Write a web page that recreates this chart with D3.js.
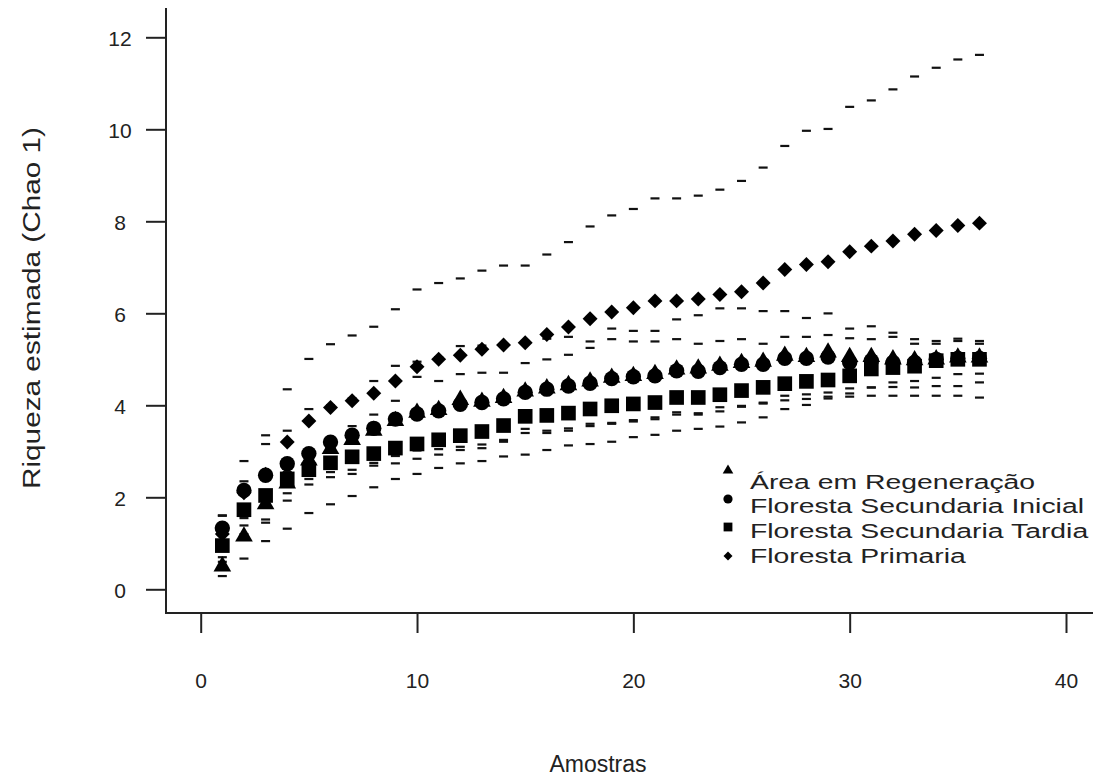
<!DOCTYPE html>
<html>
<head>
<meta charset="utf-8">
<script src="https://cdnjs.cloudflare.com/ajax/libs/d3/7.8.5/d3.min.js"></script>
<style>
  body { margin: 0; background: #fff; }
  text { font-family: "Liberation Sans", Arial, sans-serif; fill: #222; }
</style>
</head>
<body>
<div id="svg"></div>
<script>
// Amostras (eixo x)
var amostras = [1, 2, 3, 4, 5, 6, 7, 8, 9, 10, 11, 12, 13, 14, 15, 16, 17, 18,
                19, 20, 21, 22, 23, 24, 25, 26, 27, 28, 29, 30, 31, 32, 33, 34, 35, 36];

var legenda = ["Área em Regeneração", "Floresta Secundaria Inicial",
               "Floresta Secundaria Tardia", "Floresta Primaria"];

// Riqueza estimada (Chao 1) - medias
var regenMedia = [0.5, 1.15, 1.85, 2.3, 2.8, 3.05, 3.25, 3.45, 3.66, 3.84, 3.9, 4.12, 4.08, 4.16, 4.3, 4.37, 4.44, 4.52,
                  4.6, 4.64, 4.68, 4.78, 4.8, 4.86, 4.92, 4.95, 5.08, 5.05, 5.15, 5.05, 5.05, 5.0, 4.98, 5.0, 5.04, 5.04];
var iniMedia = [1.33, 2.15, 2.48, 2.73, 2.95, 3.2, 3.35, 3.5, 3.7, 3.81, 3.88, 4.02, 4.06, 4.14, 4.28, 4.35, 4.42, 4.48,
                4.58, 4.62, 4.64, 4.75, 4.74, 4.82, 4.89, 4.89, 5.02, 5.02, 5.05, 4.93, 4.97, 4.93, 4.93, 5.0, 5.02, 5.02];
var tarMedia = [0.95, 1.73, 2.04, 2.4, 2.6, 2.75, 2.88, 2.95, 3.07, 3.16, 3.25, 3.34, 3.43, 3.56, 3.76, 3.78, 3.83, 3.92,
                3.99, 4.03, 4.06, 4.17, 4.17, 4.23, 4.32, 4.39, 4.47, 4.52, 4.55, 4.64, 4.79, 4.82, 4.85, 4.97, 5.0, 5.0];
var primMedia = [1.2, 2.1, 2.5, 3.2, 3.66, 3.95, 4.1, 4.26, 4.53, 4.84, 5.0, 5.09, 5.22, 5.31, 5.36, 5.54, 5.7, 5.88,
                 6.03, 6.12, 6.27, 6.27, 6.31, 6.41, 6.47, 6.66, 6.95, 7.06, 7.12, 7.34, 7.46, 7.57, 7.72, 7.8, 7.91, 7.96];

// Intervalos de confianca (marcados com "-")
var primSup = [1.61, 2.79, 3.35, 4.35, 5.01, 5.33, 5.52, 5.71, 6.09, 6.52, 6.66, 6.76, 6.93, 7.04, 7.04, 7.28, 7.55, 7.89,
               8.13, 8.27, 8.5, 8.5, 8.56, 8.69, 8.88, 9.17, 9.64, 9.97, 10.01, 10.49, 10.63, 10.87, 11.15, 11.34, 11.52, 11.62];
var primInf = [0.85, 1.55, 1.95, 2.55, 3.0, 3.3, 3.55, 3.8, 4.1, 4.62, 4.53, 4.68, 4.71, 4.71, 4.92, 5.0, 5.1, 5.25,
               5.44, 5.39, 5.39, 5.44, 5.34, 5.4, 5.44, 5.34, 5.49, 5.49, 5.53, 5.46, 5.44, 5.49, 5.34, 5.34, 5.4, 5.34];
var iniSup = [1.6, 2.35, 3.16, 3.45, 3.92, 4.0, 4.15, 4.53, 4.86, 4.95, 5.05, 5.29, 5.3, 5.35, 5.4, 5.45, 5.49, 5.39,
              5.67, 5.62, 5.62, 5.87, 5.96, 6.11, 6.11, 6.05, 6.05, 5.9, 6.0, 5.67, 5.72, 5.58, 5.44, 5.4, 5.45, 5.4];
var regenInf = [0.7, 1.39, 1.52, 2.09, 2.4, 2.55, 2.6, 2.75, 2.9, 3.02, 3.05, 3.1, 3.15, 3.25, 3.49, 3.45, 3.5, 3.6,
                3.62, 3.68, 3.74, 3.85, 3.83, 3.96, 3.99, 4.06, 4.21, 4.24, 4.28, 4.37, 4.39, 4.5, 4.53, 4.6, 4.68, 4.69];
var iniInf = [0.6, 1.2, 1.45, 1.93, 2.28, 2.44, 2.51, 2.69, 2.74, 2.84, 2.93, 3.03, 3.07, 3.21, 3.4, 3.4, 3.45, 3.55,
              3.6, 3.65, 3.7, 3.8, 3.8, 3.87, 3.97, 4.04, 4.11, 4.14, 4.19, 4.26, 4.39, 4.4, 4.39, 4.42, 4.42, 4.5];
var tarInf = [0.29, 0.67, 1.05, 1.32, 1.66, 1.85, 2.03, 2.22, 2.4, 2.51, 2.64, 2.74, 2.79, 2.89, 2.93, 3.03, 3.13, 3.16,
              3.21, 3.31, 3.36, 3.45, 3.49, 3.54, 3.63, 3.74, 3.92, 4.01, 4.15, 4.19, 4.21, 4.21, 4.21, 4.21, 4.21, 4.17];

var xTicks = [0, 10, 20, 30, 40];
var yTicks = [0, 2, 4, 6, 8, 10, 12];

// Tamanho do svg
var width = 1093;
var height = 779;

var svg = d3.select("#svg").append("svg")
            .attr("width", width)
            .attr("height", height);

var x = d3.scaleLinear().domain([0, 40]).range([200.7, 1066]);
var y = d3.scaleLinear().domain([0, 12]).range([589.3, 37.3]);

var eixoX = 166, eixoY = 613;

// Desenha o simbolo de cada serie
function simbolo(tipo, escala) {
  if (tipo == "tri") return d3.symbol(d3.symbolTriangle, 135 * escala)();
  if (tipo == "cir") return d3.symbol(d3.symbolCircle, 185 * escala)();
  if (tipo == "qua") return d3.symbol(d3.symbolSquare, 215 * escala)();
  return d3.symbol(d3.symbolSquare, 112 * escala)();
}

var series = [
  { nome: legenda[0], media: regenMedia, tipo: "tri" },
  { nome: legenda[1], media: iniMedia, tipo: "cir" },
  { nome: legenda[2], media: tarMedia, tipo: "qua" },
  { nome: legenda[3], media: primMedia, tipo: "dia" }
];

var intervalos = [primSup, primInf, iniSup, regenInf, iniInf, tarInf];

// Traços dos intervalos
var tracos = svg.append("g");
intervalos.forEach(function(valores) {
  tracos.selectAll(null)
    .data(valores)
    .enter().append("rect")
      .attr("x", function(d, i) { return x(amostras[i]) - 4.5; })
      .attr("y", function(d) { return y(d) - 1; })
      .attr("width", 9)
      .attr("height", 2.2)
      .attr("fill", "#111");
});

// Pontos
series.forEach(function(s) {
  svg.append("g").selectAll("path")
    .data(s.media)
    .enter().append("path")
      .attr("d", simbolo(s.tipo, 1))
      .attr("transform", function(d, i) {
        return "translate(" + x(amostras[i]) + "," + y(d) + ")" + (s.tipo == "dia" ? " rotate(45)" : "");
      })
      .attr("fill", "#000");
});

// Eixos
var gy = svg.append("g")
    .attr("transform", "translate(" + eixoX + ",0)")
    .call(d3.axisLeft(y).tickValues(yTicks).tickSize(20).tickSizeOuter(0));
gy.select(".domain").remove();
gy.selectAll("line").attr("stroke", "#222").attr("stroke-width", 2);
gy.selectAll("text")
    .attr("x", -46).attr("dy", "0.4em")
    .attr("text-anchor", "middle")
    .attr("font-size", 21).attr("fill", "#222");

var gx = svg.append("g")
    .attr("transform", "translate(0," + eixoY + ")")
    .call(d3.axisBottom(x).tickValues(xTicks).tickSize(20).tickSizeOuter(0));
gx.select(".domain").remove();
gx.selectAll("line").attr("stroke", "#222").attr("stroke-width", 2);
gx.selectAll("text")
    .attr("y", 75).attr("dy", 0)
    .attr("font-size", 21).attr("fill", "#222");

// Moldura em L
svg.append("path")
    .attr("d", "M" + eixoX + ",8V" + eixoY + "H" + width)
    .attr("fill", "none")
    .attr("stroke", "#222")
    .attr("stroke-width", 2);

// Titulos
svg.append("text")
    .attr("transform", "translate(40,308) rotate(-90)")
    .attr("text-anchor", "middle")
    .attr("font-size", 23)
    .attr("textLength", 362)
    .attr("lengthAdjust", "spacingAndGlyphs")
    .text("Riqueza estimada (Chao 1)");

svg.append("text")
    .attr("x", 598).attr("y", 772)
    .attr("text-anchor", "middle")
    .attr("font-size", 23)
    .text("Amostras");

// Legenda
var legY = [470.5, 499, 527, 556];
var legTxt = [489, 512.5, 537.5, 562.5];
var legendaG = svg.append("g");
series.forEach(function(s, i) {
  legendaG.append("path")
    .attr("d", simbolo(s.tipo, 0.36))
    .attr("transform", "translate(728," + legY[i] + ")" + (s.tipo == "dia" ? " rotate(45)" : ""))
    .attr("fill", "#000");
  legendaG.append("text")
    .attr("transform", "translate(750," + legTxt[i] + ") scale(1.35,1)")
    .attr("font-size", 21)
    .text(s.nome);
});
</script>
</body>
</html>
